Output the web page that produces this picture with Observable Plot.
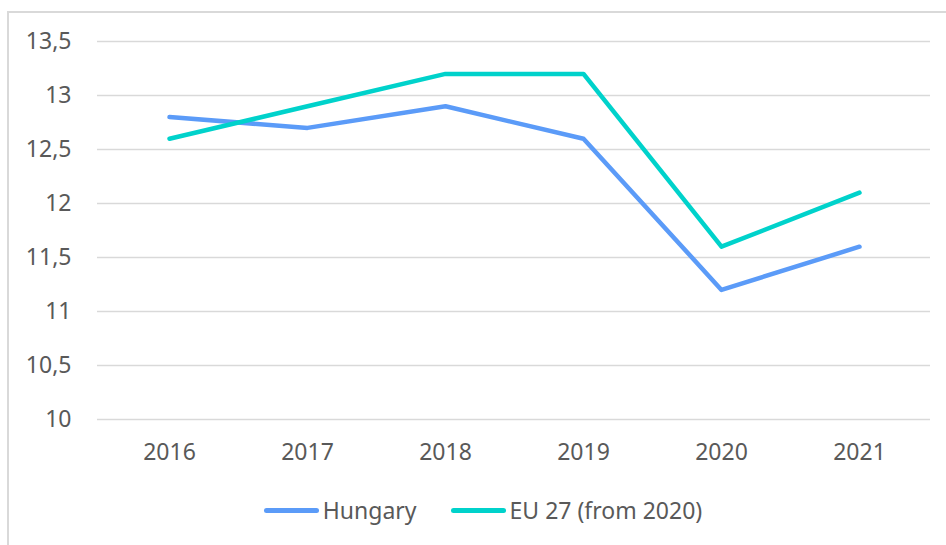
<!DOCTYPE html>
<html>
<head>
<meta charset="utf-8">
<script src="https://cdn.jsdelivr.net/npm/d3@7"></script>
<script src="https://cdn.jsdelivr.net/npm/@observablehq/plot@0.6"></script>
<style>
  html, body { margin: 0; padding: 0; background: #fff; overflow: hidden; }
  body { width: 946px; height: 545px; position: relative; font-family: "Noto Sans", sans-serif; }
  #frame { position: absolute; left: 7px; top: 11px; width: 1000px; height: 600px; border: 2px solid #d9d9d9; box-sizing: border-box; }
  #chart { position: absolute; left: 0; top: 0; }
  #legend { position: absolute; top: 494px; left: 0; width: 946px; display: flex; justify-content: center; gap: 34px; font-size: 23px; line-height: 32px; color: #595959; padding-left: 20px; box-sizing: border-box; }
  .item { display: flex; align-items: center; }
  .sw { width: 55px; height: 5px; border-radius: 3px; margin-right: 4px; }
</style>
</head>
<body>
<div id="frame"></div>
<div id="chart"></div>
<div id="legend"></div>
<script>
const years = ["2016", "2017", "2018", "2019", "2020", "2021"];
const hungary = [12.8, 12.7, 12.9, 12.6, 11.2, 11.6];
const eu27 = [12.6, 12.9, 13.2, 13.2, 11.6, 12.1];
const seriesNames = ["Hungary", "EU 27 (from 2020)"];
const seriesColors = ["#5b9bf8", "#00d2cb"];
const yTicks = [10, 10.5, 11, 11.5, 12, 12.5, 13, 13.5];

const data = [];
years.forEach((y, i) => {
  data.push({year: y, value: hungary[i], series: seriesNames[0]});
  data.push({year: y, value: eu27[i], series: seriesNames[1]});
});

const fmt = v => String(v).replace(".", ",");

const chart = Plot.plot({
  width: 946,
  height: 469,
  marginTop: 41,
  marginBottom: 50,
  marginLeft: 97,
  marginRight: 16,
  style: {fontFamily: "'Noto Sans', sans-serif", fontSize: "23px", color: "#595959", background: "transparent"},
  x: {type: "point", domain: years, padding: 0.5, label: null, tickSize: 0, tickPadding: 26},
  y: {domain: [10, 13.5], ticks: yTicks, tickFormat: fmt, label: null, tickSize: 0, tickPadding: 26},
  color: {domain: seriesNames, range: seriesColors},
  marks: [
    Plot.gridY(yTicks, {stroke: "#d9d9d9", strokeOpacity: 1, strokeWidth: 1.5}),
    Plot.axisX({tickSize: 0, tickPadding: 24, label: null, fill: "#595959"}),
    Plot.axisY(yTicks, {tickSize: 0, tickPadding: 26, tickFormat: fmt, label: null, fill: "#595959"}),
    Plot.line(data, {x: "year", y: "value", stroke: "series", z: "series", strokeWidth: 4.5, strokeLinejoin: "round", strokeLinecap: "round"})
  ]
});
document.getElementById("chart").appendChild(chart);

const legend = document.getElementById("legend");
seriesNames.forEach((n, i) => {
  const it = document.createElement("div");
  it.className = "item";
  const sw = document.createElement("div");
  sw.className = "sw";
  sw.style.background = seriesColors[i];
  const t = document.createElement("span");
  t.textContent = n;
  it.appendChild(sw);
  it.appendChild(t);
  legend.appendChild(it);
});
</script>
</body>
</html>
